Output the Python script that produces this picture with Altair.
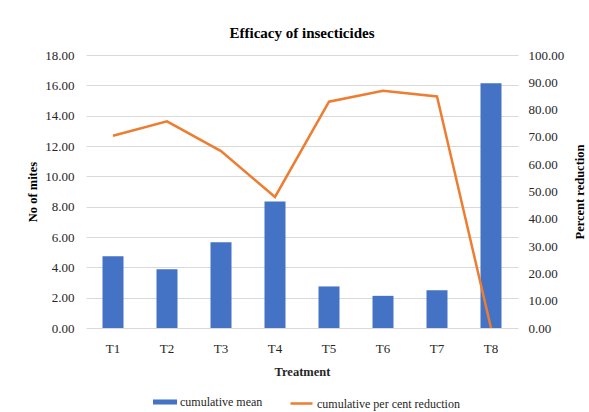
import altair as alt
import pandas as pd

treatments = ["T1", "T2", "T3", "T4", "T5", "T6", "T7", "T8"]
cumulative_mean = [4.73, 3.88, 5.66, 8.34, 2.74, 2.12, 2.49, 16.13]
percent_reduction = [70.4, 75.7, 64.8, 48.0, 82.9, 86.9, 84.8, 0.0]

df = pd.DataFrame({
    "Treatment": treatments,
    "mean": cumulative_mean,
    "reduction": percent_reduction,
    "s1": ["cumulative mean"] * len(treatments),
    "s2": ["cumulative per cent reduction"] * len(treatments),
})

FONT = "Liberation Serif"
BLUE = "#4472C4"
ORANGE = "#ED7D31"
W, H = 432, 273

x_enc = alt.X(
    "Treatment:N",
    sort=treatments,
    scale=alt.Scale(paddingInner=0, paddingOuter=0),
    axis=alt.Axis(
        title="Treatment", labelAngle=0, ticks=False, domain=False, grid=False,
        labelPadding=14, labelFont=FONT, labelFontSize=13, labelColor="#262626",
        titleFont=FONT, titleFontSize=12.5, titleFontWeight="bold", titleColor="#262626",
        titleX=W / 2, titleY=43, titleBaseline="middle", titleAlign="center",
    ),
)

bars = alt.Chart(df).mark_bar(size=21).encode(
    x=x_enc,
    y=alt.Y(
        "mean:Q",
        scale=alt.Scale(domain=[0, 18], nice=False),
        axis=alt.Axis(
            title="No of mites", values=list(range(0, 19, 2)), format=".2f",
            ticks=False, domain=False, gridColor="#D9D9D9", gridWidth=1,
            labelPadding=12, labelFont=FONT, labelFontSize=13, labelColor="#262626",
            titleFont=FONT, titleFontSize=12.5, titleFontWeight="bold", titleColor="#000000",
            titleAngle=270, titleX=-54, titleY=H / 2, titleBaseline="middle", titleAlign="center",
        ),
    ),
    color=alt.Color(
        "s1:N",
        scale=alt.Scale(domain=["cumulative mean"], range=[BLUE]),
        legend=alt.Legend(
            title=None, orient="none", legendX=67, legendY=335, padding=0,
            symbolType="M-1,-0.21H1V0.21H-1Z", symbolSize=576, symbolStrokeWidth=0,
            labelFont=FONT, labelFontSize=12, labelColor="#262626", labelOffset=3,
        ),
    ),
)

line = alt.Chart(df).mark_line(strokeWidth=2.5, color=ORANGE).encode(
    x=x_enc,
    y=alt.Y(
        "reduction:Q",
        scale=alt.Scale(domain=[0, 100], nice=False),
        axis=alt.Axis(
            title="Percent reduction", orient="right", values=list(range(0, 101, 10)), format=".2f",
            ticks=False, domain=False, grid=False,
            labelPadding=10, labelFont=FONT, labelFontSize=13, labelColor="#262626",
            titleFont=FONT, titleFontSize=12.5, titleFontWeight="bold", titleColor="#000000",
            titleAngle=270, titleX=61, titleY=H / 2, titleBaseline="middle", titleAlign="center",
        ),
    ),
    stroke=alt.Stroke(
        "s2:N",
        scale=alt.Scale(domain=["cumulative per cent reduction"], range=[ORANGE]),
        legend=alt.Legend(
            title=None, orient="none", legendX=203, legendY=336, padding=0,
            symbolType="stroke", symbolSize=484, symbolStrokeWidth=2.5,
            labelFont=FONT, labelFontSize=12, labelColor="#262626", labelOffset=3,
        ),
    ),
)

chart = alt.layer(bars, line).resolve_scale(
    y="independent", color="independent", stroke="independent"
).properties(
    width=W,
    height=H,
    title=alt.Title(
        "Efficacy of insecticides", font=FONT, fontSize=15, fontWeight="bold",
        color="#000000", anchor="middle", offset=8,
    ),
    autosize=alt.AutoSizeParams(type="none"),
    padding={"left": 86, "top": 55, "right": 71, "bottom": 84},
).configure(
    background="white", font=FONT
).configure_view(stroke=None).configure_axis(
    labelFont=FONT, titleFont=FONT
).configure_legend(labelFont=FONT)

chart.save("out.html", embed_options={"renderer": "svg", "actions": False})
